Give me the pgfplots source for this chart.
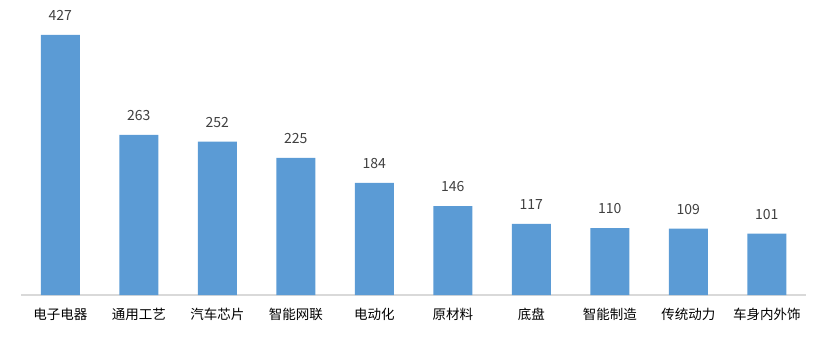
\documentclass[border=0pt]{standalone}
\usepackage{pgfplots}
\pgfplotsset{compat=1.18}
\usepackage{fontspec}
\setmainfont{Noto Sans CJK SC}
\definecolor{barblue}{HTML}{5B9BD5}
\definecolor{axgray}{HTML}{D9D9D9}
\definecolor{txtgray}{HTML}{404040}
\begin{document}
\begin{tikzpicture}[x=1pt,y=1pt]
\path (0,0) rectangle (829,341);
\begin{axis}[
  at={(21pt,46pt)}, anchor=south west,
  scale only axis, width=785pt, height=260pt,
  xmin=-0.5, xmax=9.5, ymin=0, ymax=427,
  ybar, bar width=39pt,
  axis x line*=bottom, axis y line=none,
  x axis line style={axgray, line width=1.5pt, -},
  xtick=data,
  xticklabels={电子电器,通用工艺,汽车芯片,智能网联,电动化,原材料,底盘,智能制造,传统动力,车身内外饰},
  major tick length=0pt,
  xticklabel style={font=\fontsize{13.5}{15}\selectfont, text=black, inner sep=0pt, yshift=-13pt},
  /pgf/number format/assume math mode=true,
  nodes near coords,
  every node near coord/.append style={font=\fontsize{14}{16}\selectfont, text=txtgray, anchor=south, inner sep=0pt, yshift=14pt},
  clip=false,
]
\addplot[fill=barblue, draw=none] coordinates {
(0,427) (1,263) (2,252) (3,225) (4,184) (5,146) (6,117) (7,110) (8,109) (9,101)};
\end{axis}
\end{tikzpicture}
\end{document}
